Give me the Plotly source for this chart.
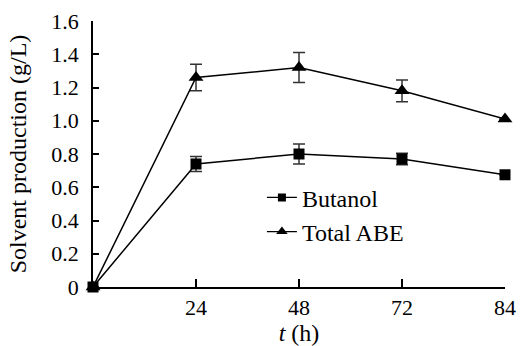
import plotly.graph_objects as go

time_labels = ["0", "24", "48", "72", "84"]
butanol = [0, 0.74, 0.80, 0.77, 0.675]
butanol_err = [0, 0.045, 0.06, 0.035, 0]
total_abe = [0, 1.26, 1.32, 1.18, 1.01]
total_abe_err = [0, 0.08, 0.09, 0.065, 0]

xpos = list(range(len(time_labels)))
FONT = "Tinos, 'Liberation Serif', 'DejaVu Serif', serif"

fig = go.Figure()
fig.add_trace(go.Scatter(
    x=xpos, y=total_abe, name="Total ABE", mode="lines+markers", showlegend=False,
    line=dict(color="black", width=1.5),
    marker=dict(symbol="triangle-up", size=13, color="black"),
    error_y=dict(type="data", array=total_abe_err, visible=True, color="#333333", thickness=1.5, width=6),
    cliponaxis=False,
))
fig.add_trace(go.Scatter(
    x=xpos, y=butanol, name="Butanol", mode="lines+markers", showlegend=False,
    line=dict(color="black", width=1.5),
    marker=dict(symbol="square", size=11, color="black"),
    error_y=dict(type="data", array=butanol_err, visible=True, color="#333333", thickness=1.5, width=6),
    cliponaxis=False,
))
# legend entries (smaller legend symbols as in the reference)
fig.add_trace(go.Scatter(
    x=[None], y=[None], name="Butanol", mode="lines+markers",
    line=dict(color="black", width=1.2),
    marker=dict(symbol="square", size=8, color="black"),
))
fig.add_trace(go.Scatter(
    x=[None], y=[None], name="Total ABE", mode="lines+markers",
    line=dict(color="black", width=1.2),
    marker=dict(symbol="triangle-up", size=10, color="black"),
))

fig.update_layout(
    width=520, height=346,
    margin=dict(l=93, r=15, t=21, b=59, autoexpand=False),
    paper_bgcolor="white", plot_bgcolor="white",
    font=dict(family=FONT, size=22, color="black"),
    showlegend=True,
    legend=dict(x=0.41, y=0.42, xanchor="left", yanchor="top", traceorder="normal",
                bgcolor="rgba(0,0,0,0)", font=dict(family=FONT, size=24), itemwidth=30,
                tracegroupgap=0),
    xaxis=dict(
        range=[0, 4], tickmode="array", tickvals=xpos[1:], ticktext=time_labels[1:],
        showline=True, linecolor="black", linewidth=1.5,
        ticks="inside", ticklen=8, tickwidth=1.5, tickcolor="black",
        ticklabelstandoff=0, automargin=False,
        tickfont=dict(family=FONT, size=22),
        showgrid=False, zeroline=False,
        title=dict(text="<i>t</i> (h)", standoff=8, font=dict(family=FONT, size=24)),
    ),
    yaxis=dict(
        range=[0, 1.6], tickmode="array",
        tickvals=[0, 0.2, 0.4, 0.6, 0.8, 1.0, 1.2, 1.4, 1.6],
        ticktext=["0", "0.2", "0.4", "0.6", "0.8", "1.0", "1.2", "1.4", "1.6"],
        showline=True, linecolor="black", linewidth=1.5,
        ticks="inside", ticklen=6, tickwidth=1.5, tickcolor="black",
        ticklabelstandoff=8, automargin=False,
        tickfont=dict(family=FONT, size=22),
        showgrid=False, zeroline=False,
        title=dict(text="Solvent production (g/L)", standoff=18, font=dict(family=FONT, size=24)),
    ),
)

fig.write_html("out.html", config={"displayModeBar": False},
               post_script="document.body.style.margin='0';document.body.style.overflow='hidden';")
